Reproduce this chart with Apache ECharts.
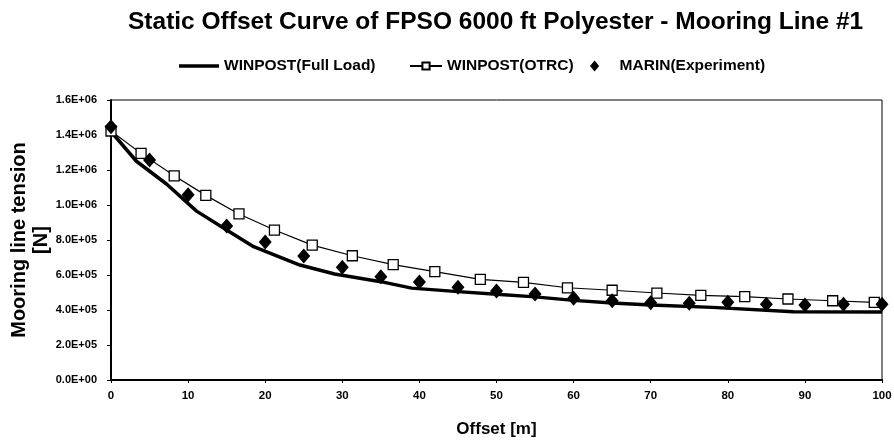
<!DOCTYPE html>
<html>
<head>
<meta charset="utf-8">
<script src="https://cdn.jsdelivr.net/npm/echarts@6/dist/echarts.min.js"></script>
<style>
  html, body { margin: 0; padding: 0; background: #fff; }
  #chart { width: 894px; height: 443px; }
</style>
</head>
<body>
<div id="chart"></div>
<script>
// WINPOST (Full Load) - offset [m] / tension [N]
const fullLoadX = [0, 3.3, 7.2, 11.1, 15, 18.5, 24.5, 29, 35, 39, 45, 50, 55, 60, 65, 70, 78, 88.5, 100];
const fullLoadY = [1.42e6, 1.25e6, 1.12e6, 9.65e5, 8.57e5, 7.62e5, 6.57e5, 6.06e5, 5.62e5, 5.25e5, 5.05e5, 4.9e5, 4.75e5, 4.55e5, 4.4e5, 4.28e5, 4.15e5, 3.9e5, 3.88e5];

// WINPOST (OTRC)
const otrcX = [0, 3.9, 8.2, 12.3, 16.6, 21.2, 26.1, 31.3, 36.6, 42.0, 47.9, 53.5, 59.2, 65.0, 70.8, 76.5, 82.2, 87.8, 93.6, 99.0];
const otrcY = [1.423e6, 1.295e6, 1.167e6, 1.055e6, 9.49e5, 8.57e5, 7.71e5, 7.1e5, 6.59e5, 6.19e5, 5.75e5, 5.58e5, 5.27e5, 5.13e5, 4.97e5, 4.84e5, 4.76e5, 4.63e5, 4.53e5, 4.44e5];

// MARIN (Experiment)
const marinX = [0, 5, 10, 15, 20, 25, 30, 35, 40, 45, 50, 55, 60, 65, 70, 75, 80, 85, 90, 95, 100];
const marinY = [1.447e6, 1.257e6, 1.059e6, 8.8e5, 7.89e5, 7.09e5, 6.44e5, 5.9e5, 5.6e5, 5.3e5, 5.09e5, 4.91e5, 4.67e5, 4.53e5, 4.42e5, 4.38e5, 4.44e5, 4.33e5, 4.29e5, 4.33e5, 4.33e5];

const xTicks = [0, 10, 20, 30, 40, 50, 60, 70, 80, 90, 100];

const pairs = (xs, ys) => xs.map((x, i) => [x, ys[i]]);

function sci(v) {
  if (v === 0) return '0.0E+00';
  const e = Math.floor(Math.log10(v) + 1e-9);
  const m = v / Math.pow(10, e);
  return m.toFixed(1) + 'E+' + String(e).padStart(2, '0');
}

const font = 'Liberation Sans, Arial, sans-serif';
const legendText = { fontFamily: font, fontWeight: 'bold', fontSize: 15.5, color: '#000' };
const chart = echarts.init(document.getElementById('chart'), null, { renderer: 'canvas' });

chart.setOption({
  animation: false,
  title: {
    text: 'Static Offset Curve of FPSO 6000 ft Polyester - Mooring Line #1',
    left: 123,
    top: 5,
    textStyle: { fontFamily: font, fontWeight: 'bold', fontSize: 24.5, color: '#000' }
  },
  legend: [
    {
      top: 53, left: 174, itemWidth: 40, itemHeight: 10,
      textStyle: legendText,
      data: [{ name: 'WINPOST(Full Load)', icon: 'path://M0,0H40V3.5H0Z' }]
    },
    {
      top: 53, left: 404, itemWidth: 32, itemHeight: 9,
      textStyle: legendText,
      data: [{ name: 'WINPOST(OTRC)' }]
    },
    {
      top: 53, left: 585, itemWidth: 40, itemHeight: 11,
      textStyle: legendText,
      data: [{ name: 'MARIN(Experiment)', icon: 'path://M5,0L10,6L5,12L0,6Z', itemStyle: { color: '#000' } }]
    }
  ],
  grid: {
    left: 111, right: 12, top: 100, bottom: 63,
    outerBoundsMode: 'none',
    containLabel: false,
    show: true, borderColor: '#000', borderWidth: 1
  },
  xAxis: {
    type: 'value',
    min: 0, max: 100, interval: 10,
    name: 'Offset [m]',
    nameLocation: 'middle',
    nameGap: 41,
    nameMoveOverlap: false,
    nameTextStyle: { fontFamily: font, fontWeight: 'bold', fontSize: 17, color: '#000' },
    axisLine: { lineStyle: { color: '#000', width: 2 } },
    axisTick: { show: true, length: 3, lineStyle: { color: '#000' } },
    axisLabel: {
      fontFamily: font, fontWeight: 'bold', fontSize: 11.5, color: '#000', margin: 10,
      formatter: v => xTicks.includes(v) ? String(v) : ''
    },
    splitLine: { show: false }
  },
  yAxis: {
    type: 'value',
    min: 0, max: 1.6e6, interval: 2e5,
    name: 'Mooring line tension\n[N]',
    nameLocation: 'middle',
    nameGap: 59,
    nameMoveOverlap: false,
    nameRotate: 90,
    nameTextStyle: { fontFamily: font, fontWeight: 'bold', fontSize: 20, color: '#000', lineHeight: 22 },
    axisLine: { show: true, lineStyle: { color: '#000', width: 2 } },
    axisTick: { show: true, length: 4, lineStyle: { color: '#000' } },
    axisLabel: { fontFamily: font, fontWeight: 'bold', fontSize: 11, color: '#000', margin: 14, formatter: sci },
    splitLine: { show: false }
  },
  series: [
    {
      name: 'WINPOST(Full Load)',
      type: 'line',
      data: pairs(fullLoadX, fullLoadY),
      symbol: 'none',
      lineStyle: { color: '#000', width: 3.5 },
      itemStyle: { color: '#000' },
      z: 2
    },
    {
      name: 'WINPOST(OTRC)',
      type: 'line',
      data: pairs(otrcX, otrcY),
      symbol: 'rect',
      symbolSize: 10,
      lineStyle: { color: '#000', width: 1.2 },
      itemStyle: { color: '#fff', borderColor: '#000', borderWidth: 1.3 },
      z: 3
    },
    {
      name: 'MARIN(Experiment)',
      type: 'scatter',
      data: pairs(marinX, marinY),
      symbol: 'diamond',
      symbolSize: [13, 15],
      itemStyle: { color: '#000', opacity: 1 },
      z: 4
    }
  ]
});
</script>
</body>
</html>
